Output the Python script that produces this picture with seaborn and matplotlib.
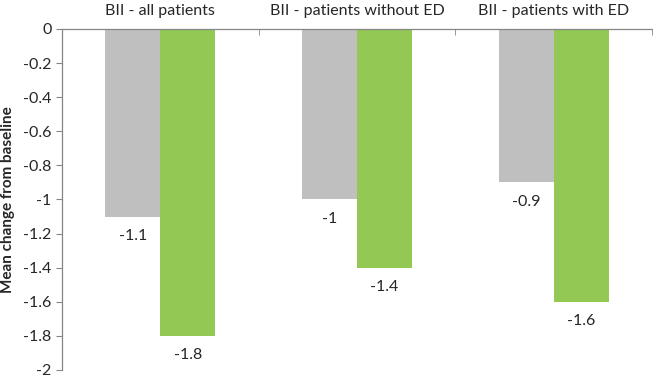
import pandas as pd
import matplotlib.pyplot as plt
import seaborn as sns

groups = ["BII - all patients", "BII - patients without ED", "BII - patients with ED"]
series = ["Control", "Treatment"]
control_vals = [-1.1, -1.0, -0.9]
treatment_vals = [-1.8, -1.4, -1.6]
y_ticks = [0, -0.2, -0.4, -0.6, -0.8, -1, -1.2, -1.4, -1.6, -1.8, -2]

df = pd.DataFrame({
    "Group": groups * 2,
    "Series": [series[0]] * 3 + [series[1]] * 3,
    "Value": control_vals + treatment_vals,
})

sns.set_style("white")
plt.rcParams['font.family'] = ['Lato', 'DejaVu Sans']

fig = plt.figure(figsize=(6.53, 3.76), dpi=100)
ax = fig.add_axes([0.095, 0.016, 0.9035, 0.907])

sns.barplot(data=df, x="Group", y="Value", hue="Series", order=groups,
            hue_order=series, palette=["#BFBFBF", "#92C853"], width=0.56,
            saturation=1, legend=False, linewidth=0, ax=ax)

for cont in ax.containers:
    ax.bar_label(cont, fmt=lambda v: f"{v:g}", padding=9, fontsize=11.5)

ax.set_ylim(-2, 0)
ax.set_xlim(-0.5, 2.5)
ax.set_yticks(y_ticks)
ax.set_yticklabels([f"{v:g}" for v in y_ticks], fontsize=11.5)
ax.set_ylabel("Mean change from baseline", fontsize=11, fontweight="bold", labelpad=6)
ax.set_xlabel("")

# x axis line sits at zero (top of plot)
ax.xaxis.tick_top()
ax.set_xticks(range(len(groups)))
ax.set_xticklabels(groups, fontsize=11.5)
ax.set_xticks([-0.5, 0.5, 1.5, 2.5], minor=True)
ax.tick_params(axis="x", which="major", length=0, pad=8)
ax.tick_params(axis="x", which="minor", direction="in", length=4, color="#868686", top=True)
ax.tick_params(axis="y", length=4, color="#868686", left=True)

for side in ["bottom", "right"]:
    ax.spines[side].set_visible(False)
for side in ["top", "left"]:
    ax.spines[side].set_color("#868686")
    ax.spines[side].set_linewidth(0.9)

fig.savefig("out.png", dpi=100)
